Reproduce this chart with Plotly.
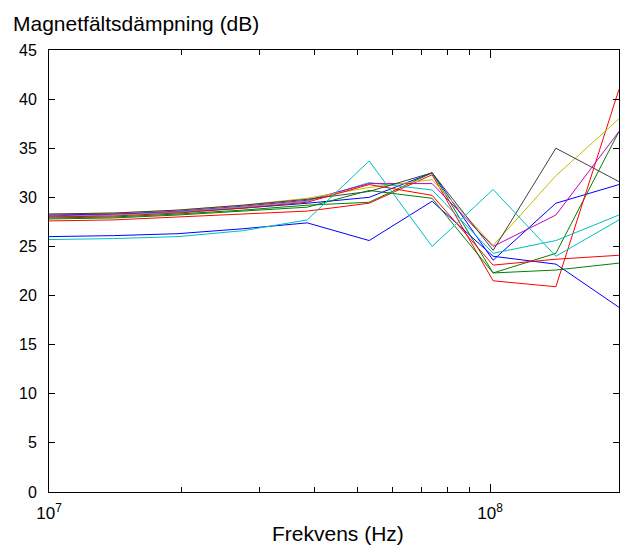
import plotly.graph_objects as go

# Measurement frequencies (Hz)
freq_hz = [1.00e7, 1.40e7, 1.96e7, 2.75e7, 3.85e7, 5.32e7, 7.39e7, 1.016e8, 1.41e8, 1.96e8]

# Magnetic field attenuation (dB), one list per measurement
blue_a = [28.2, 28.3, 28.5, 28.9, 29.4, 30.0, 32.5, 23.6, 29.4, 31.3]
green_a = [27.9, 28.0, 28.3, 28.7, 29.2, 29.5, 32.5, 22.3, 24.3, 36.7]
red_a = [27.6, 27.7, 28.0, 28.3, 28.6, 29.4, 32.3, 21.5, 20.9, 41.0]
cyan_a = [28.0, 28.2, 28.5, 29.0, 29.6, 31.5, 30.75, 24.3, 25.6, 28.2]
magenta_a = [28.1, 28.3, 28.6, 29.1, 29.7, 31.4, 31.4, 25.0, 28.2, 36.7]
yellow_a = [28.3, 28.4, 28.7, 29.2, 29.9, 31.0, 31.8, 25.1, 32.2, 38.0]
gray_a = [28.3, 28.4, 28.7, 29.2, 29.8, 30.6, 32.5, 24.6, 35.0, 31.6]
blue_b = [26.0, 26.1, 26.3, 26.8, 27.4, 25.6, 29.6, 24.0, 23.2, 18.8]
green_b = [27.8, 27.9, 28.2, 28.6, 29.0, 30.7, 29.9, 22.3, 22.6, 23.3]
red_b = [28.0, 28.1, 28.4, 28.9, 29.5, 31.3, 30.2, 23.1, 23.7, 24.1]
cyan_b = [25.7, 25.8, 26.0, 26.6, 27.7, 33.7, 25.0, 30.8, 24.0, 27.7]

series = [blue_a, green_a, red_a, cyan_a, magenta_a, yellow_a, gray_a,
          blue_b, green_b, red_b, cyan_b]
colors = ["#0000FF", "#008000", "#FF0000", "#00BFBF", "#BF00BF", "#BFBF00",
          "#404040", "#0000FF", "#008000", "#FF0000", "#00BFBF"]

x_major = [1e7, 1e8]
x_major_text = ["10<sup>7</sup>", "10<sup>8</sup>"]
x_minor = [2e7, 3e7, 4e7, 5e7, 6e7, 7e7, 8e7, 9e7]
y_ticks = [0, 5, 10, 15, 20, 25, 30, 35, 40, 45]

font_family = "Arial, Liberation Sans, sans-serif"

fig = go.Figure()
for vals, col in zip(series, colors):
    fig.add_trace(go.Scatter(x=freq_hz, y=vals, mode="lines",
                             line=dict(color=col, width=1),
                             showlegend=False, hoverinfo="skip"))

fig.update_layout(
    width=623, height=545,
    margin=dict(l=49, r=4, t=50, b=53),
    paper_bgcolor="white", plot_bgcolor="white",
    font=dict(family=font_family, size=16, color="black"),
    xaxis=dict(
        type="log", range=[7, 8.2923],
        tickvals=x_major, ticktext=x_major_text,
        ticks="inside", ticklen=8, tickcolor="black", tickwidth=1,
        showline=True, linecolor="black", linewidth=1, mirror="allticks",
        showgrid=False, zeroline=False,
        ticklabelstandoff=6,
        minor=dict(tickvals=x_minor, ticks="inside", ticklen=5,
                   tickcolor="black", tickwidth=1, showgrid=False),
        tickfont=dict(size=17),
    ),
    yaxis=dict(
        range=[0, 45], tickvals=y_ticks,
        ticks="inside", ticklen=6, tickcolor="black", tickwidth=1,
        showline=True, linecolor="black", linewidth=1, mirror="allticks",
        showgrid=False, zeroline=False,
        ticklabelstandoff=8,
        tickfont=dict(size=16),
    ),
    annotations=[
        dict(text="Magnetfältsdämpning (dB)", xref="paper", yref="paper",
             x=-0.067, y=1, xanchor="left", yanchor="bottom", yshift=13,
             showarrow=False, font=dict(size=21)),
        dict(text="Frekvens (Hz)", xref="paper", yref="paper",
             x=0.507, y=0, xanchor="center", yanchor="top", yshift=-28,
             showarrow=False, font=dict(size=21)),
    ],
)

fig.write_html("out.html")
